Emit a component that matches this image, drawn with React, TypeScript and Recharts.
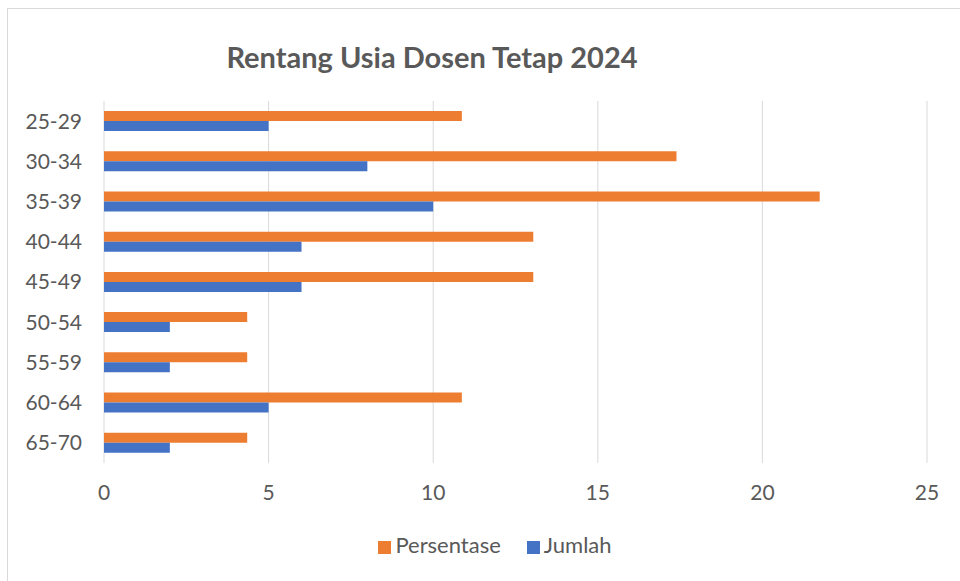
import { Bar, BarChart, CartesianGrid, Legend, XAxis, YAxis } from "recharts";

const ageGroups = ["25-29", "30-34", "35-39", "40-44", "45-49", "50-54", "55-59", "60-64", "65-70"];
const jumlah = [5, 8, 10, 6, 6, 2, 2, 5, 2];
const persentase = [10.87, 17.39, 21.74, 13.04, 13.04, 4.35, 4.35, 10.87, 4.35];
const xTicks = [0, 5, 10, 15, 20, 25];
const legendOrder = ["Persentase", "Jumlah"];

const data = ageGroups.map((g, i) => ({
  group: g,
  Persentase: persentase[i],
  Jumlah: jumlah[i],
}));

const FONT = "Lato, 'Open Sans', sans-serif";
const TEXT = "#595959";

export default function App() {
  return (
    <div
      style={{
        position: "absolute",
        left: 7,
        top: 8,
        width: 960,
        height: 580,
        border: "1px solid #d9d9d9",
        borderRight: "none",
        borderBottom: "none",
        background: "#fff",
        fontFamily: FONT,
      }}
    >
      <div
        style={{
          position: "absolute",
          left: 0,
          width: 848,
          top: 30,
          textAlign: "center",
          fontSize: 29,
          fontWeight: 700,
          color: TEXT,
        }}
      >
        Rentang Usia Dosen Tetap 2024
      </div>
      <BarChart
        width={952}
        height={572}
        data={data}
        layout="vertical"
        barSize={10}
        barGap={0}
        margin={{ top: 91, right: 34, left: 0, bottom: 52 }}
        style={{ position: "absolute", left: 1, top: 1 }}
      >
        <CartesianGrid stroke="#d9d9d9" horizontal={false} />
        <XAxis
          type="number"
          domain={[0, 25]}
          ticks={xTicks}
          axisLine={false}
          tickLine={false}
          tickMargin={16}
          height={40}
          tick={{ fill: TEXT, fontSize: 21, fontFamily: FONT }}
        />
        <YAxis
          type="category"
          dataKey="group"
          width={95}
          axisLine={false}
          tickLine={false}
          tickMargin={16}
          tick={{ fill: TEXT, fontSize: 21, fontFamily: FONT }}
        />
        <Legend
          verticalAlign="bottom"
          iconType="square"
          iconSize={13}
          itemSorter={(item: any) => legendOrder.indexOf(item.value)}
          wrapperStyle={{ bottom: 24, left: 40, fontSize: 22, fontFamily: FONT, color: TEXT }}
          formatter={(v) => <span style={{ color: TEXT, marginRight: 16 }}>{v}</span>}
        />
        <Bar dataKey="Persentase" fill="#ED7D31" isAnimationActive={false} />
        <Bar dataKey="Jumlah" fill="#4472C4" isAnimationActive={false} />
      </BarChart>
    </div>
  );
}
